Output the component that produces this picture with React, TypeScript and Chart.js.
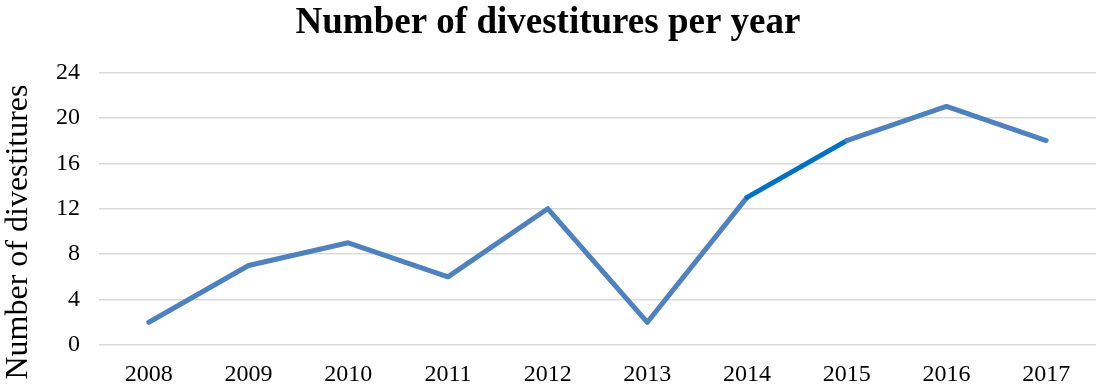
import React, { useEffect, useRef } from "react";
import { Chart, registerables } from "chart.js";

Chart.register(...registerables);

const years = ["2008", "2009", "2010", "2011", "2012", "2013", "2014", "2015", "2016", "2017"];
const divestitures = [2, 7, 9, 6, 12, 2, 13, 18, 21, 18];
const yTicks = [0, 4, 8, 12, 16, 20, 24];

const titleText = "Number of divestitures per year";
const yTitleText = "Number of divestitures";
const FONT = "'Liberation Serif', 'Times New Roman', serif";

const yTitlePlugin = {
  id: "yTitlePlugin",
  afterDraw(chart: any) {
    const { ctx } = chart;
    ctx.save();
    ctx.font = `32px ${FONT}`;
    ctx.fillStyle = "#000";
    ctx.textAlign = "center";
    ctx.textBaseline = "alphabetic";
    ctx.translate(27, 232);
    ctx.rotate(-Math.PI / 2);
    ctx.fillText(yTitleText, 0, 0);
    ctx.restore();
  },
};

export default function App() {
  const ref = useRef<HTMLCanvasElement | null>(null);

  useEffect(() => {
    document.body.style.margin = "0";
    const canvas = ref.current;
    if (!canvas) return;
    const chart = new Chart(canvas, {
      type: "line",
      data: {
        labels: years,
        datasets: [
          {
            data: divestitures,
            borderColor: "#4F81BD",
            borderWidth: 5,
            borderCapStyle: "round",
            borderJoinStyle: "round",
            pointRadius: 0,
            pointHoverRadius: 0,
            fill: false,
            tension: 0,
            segment: {
              borderColor: (c: any) => (c.p0DataIndex === 6 ? "#0070C0" : "#4F81BD"),
            },
          },
        ],
      },
      options: {
        responsive: false,
        animation: false,
        devicePixelRatio: 1,
        layout: { padding: { left: 0, right: 2, top: 0, bottom: 0 } },
        plugins: {
          legend: { display: false },
          tooltip: { enabled: false },
          title: {
            display: true,
            text: titleText,
            color: "#000",
            font: { family: FONT, size: 37, weight: "bold" },
            padding: { top: 1, bottom: 27 },
          },
        },
        scales: {
          x: {
            offset: true,
            grid: { display: false, drawTicks: false },
            border: { display: false },
            ticks: {
              color: "#000",
              font: { family: FONT, size: 24 },
              padding: 15,
              maxRotation: 0,
            },
            afterFit: (axis: any) => {
              axis.height = 42;
            },
          },
          y: {
            min: 0,
            max: 24,
            afterBuildTicks: (axis: any) => {
              axis.ticks = yTicks.map((v) => ({ value: v }));
            },
            grid: { color: "#D9D9D9", lineWidth: 1.5, drawTicks: false },
            border: { display: false },
            ticks: {
              color: "#000",
              font: { family: FONT, size: 24 },
              padding: 19,
            },
            afterFit: (axis: any) => {
              axis.width = 99;
            },
          },
        },
      },
      plugins: [yTitlePlugin],
    });
    return () => chart.destroy();
  }, []);

  return (
    <div style={{ width: 1098, height: 387, background: "#fff" }}>
      <canvas ref={ref} width={1098} height={387} style={{ display: "block" }} />
    </div>
  );
}
